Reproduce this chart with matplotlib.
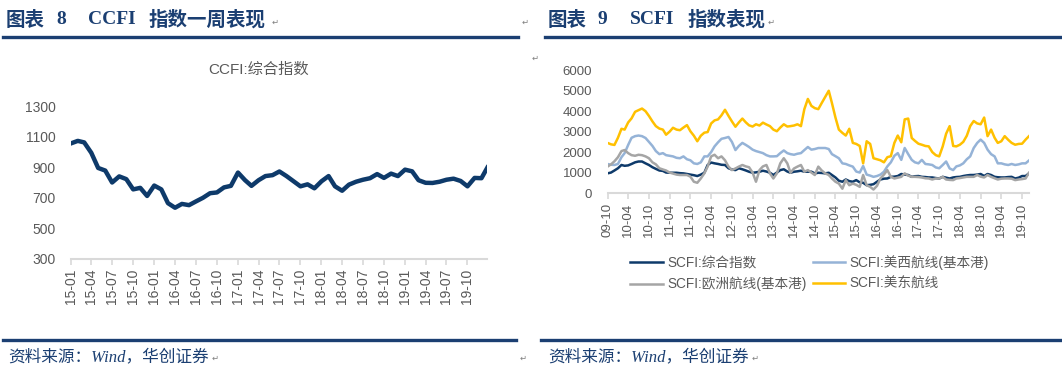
import matplotlib
matplotlib.use("Agg")
import matplotlib.pyplot as plt
import matplotlib.dates as mdates
import pandas as pd

plt.rcParams["font.family"] = ["Liberation Sans", "Noto Sans CJK SC", "DejaVu Sans"]

NAVY = "#0e3a6a"
LIGHT_BLUE = "#95b3d7"
GREY = "#a5a5a5"
GOLD = "#ffc000"
TEXT_GREY = "#595959"
AXIS_GREY = "#d9d9d9"
HEAD = "#1b3f72"

# ---- CCFI composite, monthly readings (2015-01 .. 2019-12) + last week ----
ccfi_dates = list(pd.date_range("2015-01-01", periods=60, freq="MS")) + [pd.Timestamp("2019-12-27")]
ccfi_values = [
    1055, 1072, 1062, 994, 895, 878, 800, 840, 822, 755, 765, 712,
    780, 755, 665, 635, 660, 652, 676, 700, 730, 735, 768, 778,
    865, 815, 778, 815, 842, 848, 872, 842, 808, 775, 788, 762,
    808, 842, 775, 746, 786, 805, 818, 828, 855, 830, 858, 842,
    884, 873, 815, 798, 797, 805, 818, 825, 810, 775, 830, 828,
    898,
]

# ---- SCFI, monthly readings (2009-10 .. 2019-12) ----
scfi_dates = pd.date_range("2009-10-01", periods=123, freq="MS")
scfi_comp = [
    960, 1000, 1100, 1210, 1370, 1330, 1350, 1420, 1500, 1540, 1540, 1450,
    1370, 1260, 1180, 1100, 1080, 1000, 990, 990, 990, 970, 960, 930,
    900, 870, 830, 900, 990, 1370, 1490, 1450, 1420, 1380, 1370, 1210,
    1150, 1120, 1210, 1160, 1100, 1040, 990, 1010, 1040, 1090, 1050, 990,
    880, 1000, 1120, 1160, 1050, 990, 1040, 1060, 1090, 1040, 1040, 1040,
    960, 990, 980, 960, 990, 880, 760, 600, 550, 660, 580, 550,
    630, 520, 500, 380, 400, 430, 550, 660, 700, 710, 790, 800,
    830, 930, 900, 880, 790, 820, 830, 790, 780, 760, 760, 730,
    710, 790, 750, 710, 760, 780, 790, 830, 860, 880, 880, 900,
    930, 830, 930, 880, 790, 770, 760, 760, 780, 790, 710, 750,
    830, 830, 960,
]
scfi_uswc = [
    1420, 1380, 1370, 1420, 1750, 1950, 2350, 2700, 2780, 2810, 2780, 2690,
    2500, 2300, 2050, 1900, 1950, 1850, 1820, 1790, 1720, 1700, 1790, 1650,
    1600, 1450, 1420, 1500, 1790, 1790, 2000, 2280, 2480, 2650, 2690, 2740,
    2500, 2100, 2300, 2450, 2350, 2250, 2120, 2050, 2000, 1950, 1850, 1790,
    1790, 1800, 1950, 2080, 1950, 1900, 1870, 1920, 1950, 2100, 2250, 2120,
    2150, 2200, 2200, 2200, 2150, 1900, 1800, 1700, 1450, 1420, 1350, 1290,
    1050, 1000, 1320, 900, 850, 790, 830, 900, 1040, 1300, 1500, 1820,
    1950, 1620, 2200, 1900, 1620, 1500, 1450, 1620, 1420, 1400, 1370, 1250,
    1210, 1370, 1540, 1200, 1120, 1300, 1350, 1450, 1650, 1790, 2200, 2450,
    2610, 2450, 2120, 1900, 1790, 1450, 1450, 1400, 1370, 1420, 1370, 1400,
    1450, 1450, 1590,
]
scfi_europe = [
    1290, 1400, 1550, 1750, 2050, 2100, 1950, 1850, 1820, 1870, 1850, 1790,
    1700, 1500, 1400, 1210, 1150, 1100, 1000, 950, 900, 880, 880, 880,
    800, 550, 500, 710, 960, 1290, 1790, 1870, 1700, 1790, 1600, 1290,
    1120, 1200, 1290, 1370, 1300, 1260, 1000, 550, 1120, 1300, 1370, 960,
    710, 960, 1450, 1700, 1450, 990, 1200, 1290, 1370, 1040, 1120, 1000,
    880, 1290, 1100, 960, 880, 710, 550, 460, 210, 630, 380, 460,
    400, 300, 880, 380, 300, 170, 350, 710, 900, 1120, 790, 710,
    750, 790, 960, 850, 790, 790, 780, 760, 720, 710, 660, 710,
    710, 790, 660, 640, 630, 710, 730, 760, 790, 790, 790, 880,
    800, 760, 880, 790, 720, 660, 700, 710, 710, 700, 630, 660,
    680, 710, 990,
]
scfi_usec = [
    2450, 2380, 2350, 2700, 3140, 3100, 3450, 3650, 3970, 4050, 4130, 4000,
    3770, 3500, 3270, 3150, 3100, 2850, 3000, 3190, 3100, 3070, 3200, 3320,
    3020, 2800, 2530, 2800, 2950, 2980, 3400, 3550, 3600, 3800, 4070, 3770,
    3500, 3240, 3450, 3640, 3450, 3310, 3250, 3360, 3300, 3440, 3350, 3270,
    3100, 3020, 3200, 3360, 3250, 3270, 3300, 3360, 3270, 4100, 4600, 4260,
    4150, 4100, 4400, 4700, 5000, 4400, 3690, 3100, 2940, 2810, 3140, 2450,
    2400, 2300, 1450, 2530, 2400, 1700, 1650, 1600, 1500, 1750, 1800, 2450,
    2810, 2480, 3600, 3640, 2690, 2550, 2410, 2360, 2300, 2280, 2000, 1850,
    1790, 2280, 2900, 3270, 2300, 2280, 2360, 2500, 2800, 3270, 3520, 3400,
    3360, 3690, 2780, 3100, 2700, 2450, 2530, 2780, 2600, 2450, 2360, 2400,
    2410, 2610, 2780,
]
scfi_labels = ["SCFI:综合指数", "SCFI:美西航线(基本港)", "SCFI:欧洲航线(基本港)", "SCFI:美东航线"]


def style_axes(ax, fontsize):
    for side in ("top", "right", "left"):
        ax.spines[side].set_visible(False)
    ax.spines["bottom"].set_color(AXIS_GREY)
    ax.spines["bottom"].set_linewidth(1.5)
    ax.tick_params(axis="y", length=0, pad=11, labelsize=fontsize, labelcolor=TEXT_GREY)
    ax.tick_params(axis="x", length=4, width=1.2, color=AXIS_GREY, direction="out",
                   pad=3, labelsize=fontsize, labelcolor=TEXT_GREY, labelrotation=90)
    ax.xaxis.set_major_formatter(mdates.DateFormatter("%y-%m"))


fig = plt.figure(figsize=(10.62, 3.76), dpi=100)
W, H = 1062, 376


def px(x, y):
    return x / W, 1 - y / H


# headers
for x, s, fam in [(6, "图表", None), (56, "8", "serif"), (88, "CCFI", "serif"), (149, "指数一周表现", None),
                  (548, "图表", None), (597, "9", "serif"), (630, "SCFI", "serif"), (688, "指数表现", None)]:
    family = ["Liberation Serif", "Noto Sans CJK SC"] if fam else ["Noto Sans CJK SC"]
    fig.text(*px(x, 20), s, fontsize=14, fontweight="bold", color=HEAD, family=family,
             ha="left", va="center")
for x, y in [(272, 22), (522, 22), (768, 22), (532, 58), (212, 358), (520, 358), (752, 358)]:
    fig.text(*px(x, y), "\u21b5", fontsize=6, color="#7f7f7f", family=["DejaVu Sans"], ha="left", va="center")

for x0, x1 in [(3, 518), (545, 1060)]:
    fig.add_artist(plt.Line2D([x0 / W, x1 / W], [1 - 37 / H] * 2, color=HEAD, lw=2.4))
for x0, x1 in [(3, 516), (541, 1060)]:
    fig.add_artist(plt.Line2D([x0 / W, x1 / W], [1 - 340 / H] * 2, color=HEAD, lw=2.4))
for x in (8, 548):
    fig.text(*px(x, 357), "资料来源：Wind，华创证券", fontsize=12, style="italic", color=HEAD,
             family=["Liberation Serif", "Noto Sans CJK SC"], ha="left", va="center")

# ---- left: CCFI ----
ax1 = fig.add_axes([70.7 / W, 1 - 259 / H, (487.4 - 70.7) / W, (259 - 106) / H])
ax1.plot(ccfi_dates, ccfi_values, color=NAVY, lw=3.2, solid_joinstyle="round")
ax1.set_ylim(300, 1300)
ax1.set_yticks(range(300, 1301, 200))
ax1.set_xlim(ccfi_dates[0], ccfi_dates[-1])
ax1.xaxis.set_major_locator(mdates.MonthLocator(bymonth=[1, 4, 7, 10]))
style_axes(ax1, 10)
fig.text(*px(259, 70), "CCFI:综合指数", fontsize=11, color=TEXT_GREY, ha="center", va="center")

# ---- right: SCFI ----
ax2 = fig.add_axes([607.5 / W, 1 - 193 / H, (1029 - 607.5) / W, (193 - 70.3) / H])
colors = [NAVY, LIGHT_BLUE, GREY, GOLD]
series = [scfi_comp, scfi_uswc, scfi_europe, scfi_usec]
handles = []
for vals, c, lab in zip(series, colors, scfi_labels):
    h, = ax2.plot(scfi_dates, vals, color=c, lw=1.8, label=lab)
    handles.append(h)
ax2.set_ylim(0, 6000)
ax2.set_yticks(range(0, 6001, 1000))
ax2.set_xlim(scfi_dates[0], scfi_dates[-1])
ax2.xaxis.set_major_locator(mdates.MonthLocator(bymonth=[4, 10]))
style_axes(ax2, 9.5)

fig.legend(handles=[handles[0], handles[2], handles[1], handles[3]],
           labels=[scfi_labels[0], scfi_labels[2], scfi_labels[1], scfi_labels[3]],
           ncol=2, loc="upper left", bbox_to_anchor=(618 / W, 1 - 243 / H), frameon=False,
           fontsize=9.8, handlelength=2.4, handletextpad=0.3, columnspacing=0.45,
           labelspacing=0.5, labelcolor=TEXT_GREY)

fig.savefig("out.png", dpi=100)
